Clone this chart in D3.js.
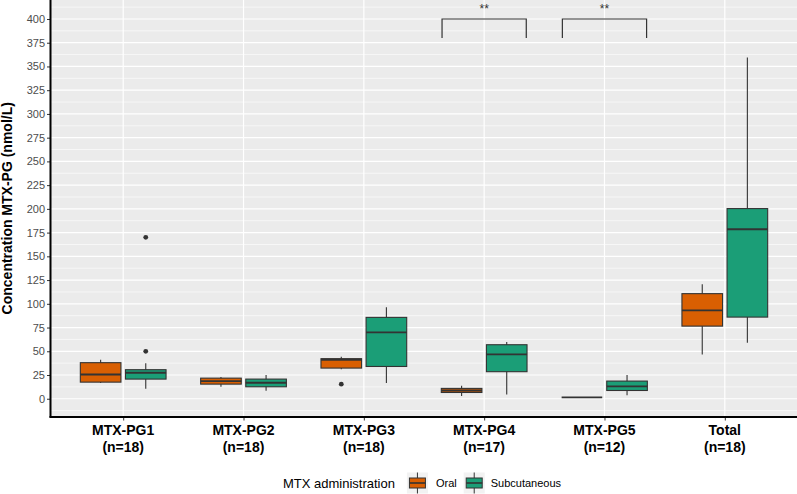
<!DOCTYPE html>
<html>
<head>
<meta charset="utf-8">
<script src="https://cdn.jsdelivr.net/npm/d3@7"></script>
<style>
  html, body { margin: 0; padding: 0; background: #ffffff; }
  svg { display: block; font-family: "Liberation Sans", Arial, sans-serif; }
</style>
</head>
<body>
<svg id="chart" width="797" height="494"></svg>
<script>
// ---------- data ----------
const categories = ["MTX-PG1", "MTX-PG2", "MTX-PG3", "MTX-PG4", "MTX-PG5", "Total"];
const nLabels = ["(n=18)", "(n=18)", "(n=18)", "(n=17)", "(n=12)", "(n=18)"];
const groups = ["Oral", "Subcutaneous"];
const groupColors = ["#D95F02", "#1B9E77"];
// [lower whisker, Q1, median, Q3, upper whisker]
const oralStats = [
  [16.5, 17.5, 25.6, 38.0, 41.0],
  [12.6, 15.4, 18.6, 21.7, 22.8],
  [31.2, 32.3, 41.1, 42.2, 44.3],
  [2.8, 6.6, 8.7, 10.9, 13.7],
  [1.4, 1.4, 1.4, 1.4, 1.4],
  [46.7, 76.5, 93.1, 110.7, 120.5]
];
const subStats = [
  [10.5, 20.7, 27.4, 30.6, 37.5],
  [8.4, 12.6, 16.9, 20.7, 25.0],
  [16.5, 34.0, 69.9, 85.7, 96.3],
  [4.5, 28.5, 46.7, 56.9, 59.7],
  [3.8, 8.7, 13.0, 18.6, 25.0],
  [59.0, 86.0, 178.5, 200.3, 359.5]
];
const oralOutliers = [[], [], [15.4], [], [], []];
const subOutliers = [[50, 170], [], [], [], [], []];
const yTicks = [0, 25, 50, 75, 100, 125, 150, 175, 200, 225, 250, 275, 300, 325, 350, 375, 400];
const bracketCats = ["MTX-PG4", "MTX-PG5"];
const bracketLabels = ["**", "**"];
const bracketTop = [400, 400];
const bracketTip = [380, 380];

// ---------- layout ----------
const svg = d3.select("#chart");
const panel = { left: 51, right: 797, top: 0, bottom: 416.5 };

const x = d3.scalePoint().domain(categories).range([panel.left, panel.right]).padding(0.6);
const step = x.step();
const y = d3.scaleLinear().domain([-18.7, 420]).range([panel.bottom, panel.top]);

const dodge = 0.1875 * step;
const boxW = 0.3375 * step;

// panel background
svg.append("rect")
  .attr("x", panel.left).attr("y", panel.top)
  .attr("width", panel.right - panel.left).attr("height", panel.bottom - panel.top)
  .attr("fill", "#EBEBEB");

// minor gridlines
const minor = [];
for (let i = 0; i < yTicks.length - 1; i++) minor.push((yTicks[i] + yTicks[i + 1]) / 2);
minor.unshift(yTicks[0] - (yTicks[1] - yTicks[0]) / 2);
minor.push(yTicks[yTicks.length - 1] + (yTicks[1] - yTicks[0]) / 2);
svg.append("g").selectAll("line").data(minor.filter(v => y(v) > panel.top && y(v) < panel.bottom)).join("line")
  .attr("x1", panel.left).attr("x2", panel.right)
  .attr("y1", d => y(d)).attr("y2", d => y(d))
  .attr("stroke", "#ffffff").attr("stroke-width", 0.6);

// major gridlines
svg.append("g").selectAll("line").data(yTicks).join("line")
  .attr("x1", panel.left).attr("x2", panel.right)
  .attr("y1", d => y(d)).attr("y2", d => y(d))
  .attr("stroke", "#ffffff").attr("stroke-width", 1.2);
svg.append("g").selectAll("line").data(categories).join("line")
  .attr("x1", d => x(d)).attr("x2", d => x(d))
  .attr("y1", panel.top).attr("y2", panel.bottom)
  .attr("stroke", "#ffffff").attr("stroke-width", 1.2);

// boxplots
const boxColor = "#333333";
function drawBoxes(stats, outliers, gi) {
  const off = gi === 0 ? -dodge : dodge;
  const g = svg.append("g");
  stats.forEach((s, i) => {
    const cx = x(categories[i]) + off;
    g.append("line")
      .attr("x1", cx).attr("x2", cx)
      .attr("y1", y(s[0])).attr("y2", y(s[4]))
      .attr("stroke", boxColor).attr("stroke-width", 1.1);
    g.append("rect")
      .attr("x", cx - boxW / 2).attr("width", boxW)
      .attr("y", y(s[3])).attr("height", Math.max(0, y(s[1]) - y(s[3])))
      .attr("fill", groupColors[gi])
      .attr("stroke", boxColor).attr("stroke-width", 1.1);
    g.append("line")
      .attr("x1", cx - boxW / 2).attr("x2", cx + boxW / 2)
      .attr("y1", y(s[2])).attr("y2", y(s[2]))
      .attr("stroke", boxColor).attr("stroke-width", 1.9);
    outliers[i].forEach(v => {
      g.append("circle").attr("cx", cx).attr("cy", y(v)).attr("r", 2.4).attr("fill", boxColor);
    });
  });
}
drawBoxes(oralStats, oralOutliers, 0);
drawBoxes(subStats, subOutliers, 1);

// significance brackets
const bHalf = 0.35 * step;
bracketCats.forEach((c, i) => {
  const cx = x(c);
  const pts = [[cx - bHalf, y(bracketTip[i])], [cx - bHalf, y(bracketTop[i])],
               [cx + bHalf, y(bracketTop[i])], [cx + bHalf, y(bracketTip[i])]];
  svg.append("path")
    .attr("d", d3.line()(pts))
    .attr("fill", "none").attr("stroke", "#333333").attr("stroke-width", 1.2);
  svg.append("text")
    .attr("x", cx).attr("y", y(bracketTop[i]) - 5.5)
    .attr("text-anchor", "middle")
    .attr("font-size", 12).attr("fill", "#333333")
    .text(bracketLabels[i]);
});

// y axis
const yAxis = svg.append("g")
  .attr("transform", `translate(${panel.left},0)`)
  .call(d3.axisLeft(y).tickValues(yTicks).tickSize(4).tickPadding(2));
yAxis.select(".domain").remove();
yAxis.selectAll(".tick line").attr("stroke", "#333333").attr("stroke-width", 1);
yAxis.selectAll(".tick text").attr("fill", "#4D4D4D").attr("font-size", 11)
  .attr("font-family", "Liberation Sans, Arial, sans-serif");

// x axis
const xAxis = svg.append("g")
  .attr("transform", `translate(0,${panel.bottom})`)
  .call(d3.axisBottom(x).tickSize(4).tickFormat(""));
xAxis.select(".domain").remove();
xAxis.selectAll(".tick line").attr("stroke", "#333333").attr("stroke-width", 1);

const xl = svg.append("g").selectAll("text").data(categories).join("text")
  .attr("x", d => x(d)).attr("text-anchor", "middle")
  .attr("font-size", 14).attr("font-weight", "bold").attr("fill", "#000");
xl.append("tspan").attr("x", d => x(d)).attr("y", 435).text(d => d);
xl.append("tspan").attr("x", d => x(d)).attr("y", 451.5).text((d, i) => nLabels[i]);

// axis lines
svg.append("line")
  .attr("x1", panel.left - 0.5).attr("x2", panel.left - 0.5)
  .attr("y1", panel.top).attr("y2", panel.bottom + 1)
  .attr("stroke", "#000").attr("stroke-width", 2);
svg.append("line")
  .attr("x1", panel.left - 1.5).attr("x2", panel.right)
  .attr("y1", panel.bottom + 0.5).attr("y2", panel.bottom + 0.5)
  .attr("stroke", "#000").attr("stroke-width", 2);

// y title
svg.append("text")
  .attr("transform", `translate(12,${(panel.top + panel.bottom) / 2}) rotate(-90)`)
  .attr("text-anchor", "middle")
  .attr("font-size", 14).attr("font-weight", "bold").attr("fill", "#000")
  .text("Concentration MTX-PG (nmol/L)");

// legend
const leg = svg.append("g");
const legY = 483;
const keySize = 21;
const title = leg.append("text").attr("y", legY + 4.5).attr("font-size", 13).attr("fill", "#000")
  .text("MTX administration");
const tW = title.node().getComputedTextLength();
const labelNodes = groups.map(gname => leg.append("text").attr("y", legY + 4).attr("font-size", 11).attr("fill", "#000").text(gname));
const lW = labelNodes.map(n => n.node().getComputedTextLength());
const total = tW + 12 + keySize + 8 + lW[0] + 7 + keySize + 6 + lW[1];
let cur = 422 - total / 2;
title.attr("x", cur);
cur += tW + 12;
groups.forEach((gname, i) => {
  const kx = cur;
  const kg = leg.append("g");
  kg.append("rect").attr("x", kx).attr("y", legY - keySize / 2).attr("width", keySize).attr("height", keySize)
    .attr("fill", "#F2F2F2");
  kg.append("line").attr("x1", kx + keySize / 2).attr("x2", kx + keySize / 2)
    .attr("y1", legY - keySize / 2).attr("y2", legY + keySize / 2)
    .attr("stroke", boxColor).attr("stroke-width", 1);
  kg.append("rect").attr("x", kx + 2.5).attr("y", legY - 5).attr("width", keySize - 5).attr("height", 10)
    .attr("fill", groupColors[i]).attr("stroke", boxColor).attr("stroke-width", 1);
  kg.append("line").attr("x1", kx + 2.5).attr("x2", kx + keySize - 2.5)
    .attr("y1", legY).attr("y2", legY)
    .attr("stroke", boxColor).attr("stroke-width", 1.6);
  cur += keySize + (i === 0 ? 8 : 6);
  labelNodes[i].attr("x", cur);
  cur += lW[i] + 7;
});
</script>
</body>
</html>
